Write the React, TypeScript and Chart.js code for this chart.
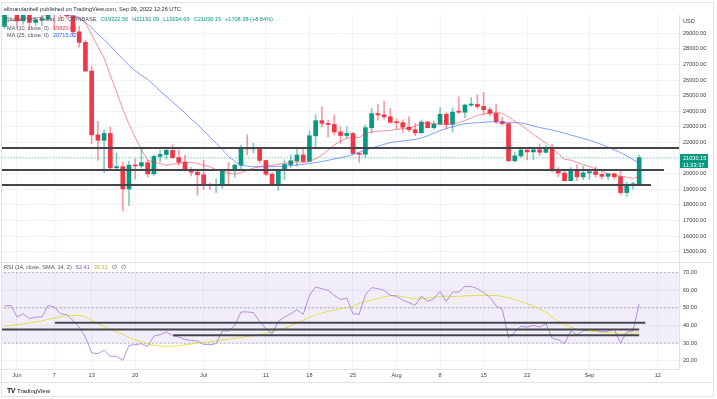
import React, { useEffect, useRef } from "react";
import { Chart, registerables } from "chart.js";

Chart.register(...registerables);

const FONT = '"Liberation Sans", Arial, sans-serif';

// Bitcoin / U.S. Dollar, 1D, COINBASE — day 0 = 30 May 2022 ... day 102 = 9 Sep 2022
const opens = [
  29440, 31720, 31790, 29800, 30450, 29700, 29860, 29910, 31370, 31130,
  30200, 30110, 29090, 28420, 26580, 22490, 22140, 22580, 20380, 20450,
  19020, 20550, 20500, 20710, 19990, 21110, 21230, 21500, 21030, 20730,
  20250, 20100, 19930, 19290, 19250, 19300, 20230, 20190, 20550, 21630,
  21590, 21600, 20850, 19970, 19330, 20230, 20590, 20830, 21200, 20790,
  22430, 23400, 23230, 23160, 22680, 22450, 22580, 21300, 21250, 22950,
  23850, 23770, 23650, 23300, 23270, 22980, 22820, 22620, 23310, 22950,
  23180, 23810, 23160, 23950, 23940, 24400, 24440, 24310, 24100, 23860,
  23340, 23210, 20830, 21140, 21520, 21400, 21530, 21370, 21570, 20250,
  20040, 19550, 20280, 19800, 20050, 20130, 19950, 19830, 19990, 19800,
  18790, 19290, 19322.56,
];
const highs = [
  31950, 32390, 31980, 30660, 30690, 29950, 30170, 31770, 31560, 31330,
  30700, 30350, 29450, 28580, 26900, 23360, 22800, 22980, 21330, 20760,
  20800, 20950, 21700, 20860, 21200, 21500, 21580, 21860, 21520, 21190,
  20410, 20140, 20880, 19420, 19650, 20300, 20740, 20650, 21830, 22500,
  21950, 21600, 20860, 20060, 20250, 20890, 21200, 21600, 21680, 22750,
  23780, 24280, 23430, 23760, 22990, 23010, 22660, 21330, 23110, 24200,
  24440, 24650, 24190, 23500, 23460, 23650, 23220, 23450, 23350, 23380,
  24240, 23920, 24220, 24920, 24450, 24880, 25050, 25210, 24250, 24440,
  23600, 23210, 21380, 21690, 21530, 21650, 21900, 21820, 21880, 20400,
  20160, 20390, 20570, 20480, 20200, 20450, 20060, 20000, 20050, 20180,
  19460, 19450, 21192.09,
];
const lows = [
  29300, 31220, 29310, 29580, 29250, 29500, 29490, 29890, 29250, 29860,
  29950, 28860, 28110, 26560, 21930, 20850, 20080, 20240, 20250, 17620,
  17960, 19650, 20350, 19780, 19900, 20750, 20940, 21000, 20520, 20200,
  19850, 18620, 18980, 18980, 18790, 19050, 19300, 19780, 20250, 21200,
  21330, 20660, 19880, 19250, 18910, 19630, 20400, 20480, 20760, 20770,
  21580, 23000, 22340, 22480, 21950, 22280, 21250, 20720, 21040, 22600,
  23430, 23500, 23230, 22850, 22660, 22700, 22440, 22590, 22920, 22850,
  23150, 22870, 22670, 23860, 23590, 24300, 24160, 23800, 23700, 23200,
  23120, 20780, 20760, 21060, 20890, 20900, 21160, 21320, 20120, 19810,
  19530, 19550, 19550, 19620, 19650, 19770, 19650, 19600, 19640, 18650,
  18540, 19010, 19294.69,
];
const closes = [
  31720, 31790, 29800, 30450, 29700, 29860, 29910, 31370, 31130, 30200,
  30110, 29090, 28420, 26580, 22490, 22140, 22580, 20380, 20450, 19020,
  20550, 20500, 20710, 19990, 21110, 21230, 21500, 21030, 20730, 20250,
  20100, 19930, 19290, 19250, 19300, 20230, 20190, 20550, 21630, 21590,
  21600, 20850, 19970, 19330, 20230, 20590, 20830, 21200, 20790, 22430,
  23400, 23230, 23160, 22680, 22450, 22580, 21300, 21250, 22950, 23850,
  23770, 23650, 23300, 23270, 22980, 22820, 22620, 23310, 22950, 23180,
  23810, 23160, 23950, 23940, 24400, 24440, 24310, 24100, 23860, 23340,
  23210, 20830, 21140, 21520, 21400, 21530, 21370, 21570, 20250, 20040,
  19550, 20280, 19800, 20050, 20130, 19950, 19830, 19990, 19800, 18790,
  19290, 19321.77, 21030.15,
];
const ma10 = [
  29600, 29840, 29790, 29930, 29930, 29960, 30030, 30310, 30520, 30590,
  30430, 30160, 30020, 29640, 28920, 28140, 27410, 26310, 25240, 24130,
  23170, 22310, 21540, 20880, 20740, 20650, 20540, 20610, 20640, 20760,
  20720, 20660, 20520, 20440, 20260, 20160, 20030, 19980, 20070, 20210,
  20360, 20450, 20520, 20520, 20620, 20650, 20720, 20780, 20700, 20780,
  20960, 21200, 21520, 21850, 22080, 22280, 22320, 22330, 22540, 22690,
  22720, 22760, 22780, 22840, 22890, 22910, 23050, 23250, 23250, 23190,
  23190, 23140, 23210, 23270, 23410, 23580, 23750, 23820, 23920, 23930,
  23870, 23640, 23360, 23120, 22820, 22520, 22230, 21980, 21620, 21290,
  20920, 20870, 20730, 20580, 20460, 20300, 20150, 19990, 19940, 19820,
  19790, 19700, 19820.69,
];
const ma25 = [
  30300, 30300, 30300, 30250, 30250, 30250, 30250, 30200, 30200, 30200,
  30180, 30100, 29950, 29700, 29350, 28950, 28600, 28200, 27750, 27350,
  26950, 26600, 26300, 26050, 25700, 25300, 24950, 24600, 24250, 23900,
  23500, 23150, 22750, 22350, 21950, 21550, 21100, 20800, 20550, 20480,
  20450, 20440, 20440, 20450, 20460, 20480, 20520, 20560, 20600, 20650,
  20720, 20780, 20860, 20940, 21020, 21120, 21230, 21380, 21520, 21640,
  21760, 21880, 22000, 22050, 22100, 22150, 22200, 22290, 22430, 22600,
  22760, 22900, 23000, 23120, 23200, 23240, 23270, 23300, 23330, 23320,
  23300, 23290, 23290, 23250, 23170, 23060, 22960, 22880, 22800, 22700,
  22600, 22480, 22370, 22260, 22140, 22010, 21860, 21700, 21530, 21350,
  21150, 20900, 20715.02,
];
const rsi = [
  51.1, 51.4, 44.8, 46.7, 43.9, 44.8, 44.8, 51.4, 50.5, 46.7,
  46.1, 42.9, 39.1, 33.4, 24.5, 24.0, 25.9, 22.5, 22.5, 20.2,
  28.7, 29.1, 29.7, 28.1, 34.0, 34.8, 36.3, 34.4, 33.4, 32.1,
  31.5, 31.2, 29.3, 29.1, 29.7, 36.9, 36.9, 40.1, 47.7, 47.7,
  47.3, 42.3, 38.2, 35.4, 42.3, 44.8, 46.7, 49.0, 46.3, 57.1,
  61.9, 60.9, 60.0, 57.1, 54.8, 55.6, 46.7, 46.3, 57.5, 61.5,
  60.9, 60.0, 57.1, 56.7, 54.3, 53.0, 51.4, 56.7, 53.7, 55.2,
  59.4, 53.7, 59.0, 59.0, 62.2, 62.2, 60.9, 58.7, 56.1, 51.1,
  49.2, 32.9, 36.3, 39.5, 39.1, 40.1, 39.1, 41.0, 32.9, 31.9,
  29.7, 36.9, 34.8, 36.9, 37.6, 37.2, 36.3, 36.9, 37.8, 30.0,
  36.3, 36.7, 52.41,
];
const rsiSma = [
  39.5, 40.0, 40.5, 41.0, 41.5, 42.0, 42.5, 43.5, 44.2, 45.0,
  45.5, 45.7, 45.7, 45.0, 43.0, 41.0, 39.5, 38.0, 36.3, 35.0,
  33.3, 32.0, 30.8, 29.6, 28.8, 28.4, 28.2, 28.3, 28.6, 29.0,
  29.5, 30.0, 30.4, 30.8, 31.2, 31.8, 32.3, 32.7, 33.2, 33.7,
  34.3, 34.8, 35.5, 36.3, 37.5, 38.5, 39.7, 41.5, 43.0, 44.7,
  46.0, 47.0, 48.0, 48.7, 49.4, 50.0, 51.0, 52.5, 53.5, 54.5,
  55.3, 56.3, 56.9, 57.0, 56.3, 55.7, 55.2, 55.2, 55.5, 56.0,
  56.5, 56.7, 56.5, 56.6, 56.8, 57.0, 57.1, 57.1, 57.1, 57.0,
  56.6, 55.8, 54.8, 53.6, 52.4, 51.2, 49.2, 47.5, 44.8, 42.2,
  40.5, 39.0, 38.0, 37.2, 36.8, 36.5, 36.3, 36.0, 35.8, 35.4,
  35.3, 35.4, 36.31,
];

const timeTickDays = [2, 8, 14, 21, 32, 42, 49, 56, 63, 70, 77, 84, 94, 105];
const timeTickLabels = ["Jun", "7", "13", "20", "Jul", "11", "18", "25", "Aug", "8", "15", "22", "Sep", "12"];
const priceTicks = [15000, 16000, 17000, 18000, 19000, 20000, 21000, 22000, 23000, 24000, 25000, 26000, 27000, 28000, 29000];
const rsiTicks = [20, 30, 40, 50, 60, 70];
const rsiBandLevels = [70, 50, 30];

// hand-drawn horizontal levels (value, first day, last day)
const priceLevels = [21650, 20230, 19280];
const priceLevelStartDays = [-2, -2, -2];
const priceLevelEndDays = [110, 106, 103.9];
const rsiLevels = [41.6, 37.8, 34.4];
const rsiLevelStartDays = [8.1, -2, 27.1];
const rsiLevelEndDays = [103, 102, 102];

const X_MIN = -0.41;
const X_MAX = 108.4;
const PRICE_MIN = 14340;
const PRICE_MAX = 30173;
const RSI_MIN = 15.3;
const RSI_MAX = 75.5;

const GRID = "#f0f3fa";
const AXIS_TEXT = "#3b3f4a";
const UP = "#089981";
const DOWN = "#f23645";
const TICK_FONT = { size: 5.6, family: FONT };

const days = closes.map((_, i) => i);
const last = closes.length - 1;
const isUp = days.map((i) => closes[i] >= opens[i]);

function xScale(showLabels: boolean) {
  return {
    type: "linear",
    min: X_MIN,
    max: X_MAX,
    bounds: "data",
    offset: false,
    afterBuildTicks: (s: any) => {
      s.ticks = timeTickDays.map((v) => ({ value: v }));
    },
    ticks: {
      display: showLabels,
      autoSkip: false,
      maxRotation: 0,
      padding: 3,
      color: AXIS_TEXT,
      font: TICK_FONT,
      callback: (_v: any, i: number) => timeTickLabels[i],
    },
    grid: { color: GRID, drawTicks: false, offset: false },
    border: { display: showLabels, color: "#e0e3eb" },
    afterFit: (s: any) => {
      s.height = showLabels ? 14 : 0;
      s.paddingLeft = 0;
      s.paddingRight = 0;
    },
  };
}

function yScale(min: number, max: number, tickVals: number[]) {
  return {
    type: "linear",
    position: "right",
    min,
    max,
    bounds: "data",
    afterBuildTicks: (s: any) => {
      s.ticks = tickVals.map((v) => ({ value: v }));
    },
    ticks: {
      color: AXIS_TEXT,
      font: TICK_FONT,
      padding: 4,
      callback: (v: any) => Number(v).toFixed(2),
    },
    grid: { color: GRID, drawTicks: false },
    border: { display: true, color: "#e0e3eb" },
    afterFit: (s: any) => {
      s.width = 35;
      s.paddingTop = 0;
      s.paddingBottom = 0;
    },
  };
}

function hLine(value: number, from: number, to: number, color: string, width: number, dash: number[], order: number) {
  return {
    type: "line",
    data: [
      { x: from, y: value },
      { x: to, y: value },
    ],
    borderColor: color,
    borderWidth: width,
    borderDash: dash,
    pointRadius: 0,
    order,
  };
}

const lastPriceLabel = {
  id: "lastPriceLabel",
  afterDraw(chart: any) {
    const y = chart.scales.y.getPixelForValue(closes[last]);
    const ctx = chart.ctx;
    const left = chart.chartArea.right + 1;
    ctx.save();
    ctx.fillStyle = UP;
    ctx.fillRect(left, Math.round(y) - 4, 28, 14);
    ctx.fillStyle = "#ffffff";
    ctx.font = `5.6px ${FONT}`;
    ctx.textAlign = "left";
    ctx.textBaseline = "middle";
    ctx.fillText(closes[last].toFixed(2), left + 3, Math.round(y) + 0.5);
    ctx.fillText("11:33:37", left + 3, Math.round(y) + 7);
    ctx.restore();
  },
};

function priceConfig(): any {
  return {
    type: "bar",
    data: {
      datasets: [
        {
          type: "bar",
          data: days.map((i) => ({ x: i, y: [lows[i], highs[i]] })),
          backgroundColor: isUp.map((u) => (u ? "rgba(8,153,129,0.5)" : "rgba(242,54,69,0.5)")),
          barThickness: 1,
          grouped: false,
          clip: 0,
          order: 9,
        },
        {
          type: "bar",
          data: days.map((i) => ({ x: i, y: [opens[i], closes[i]] })),
          backgroundColor: isUp.map((u) => (u ? UP : DOWN)),
          barThickness: 4,
          minBarLength: 1,
          grouped: false,
          clip: 0,
          order: 8,
        },
        {
          type: "line",
          data: days.map((i) => ({ x: i, y: ma25[i] })),
          borderColor: "rgba(41,98,255,0.6)",
          borderWidth: 1,
          pointRadius: 0,
          clip: 0,
          order: 7,
        },
        {
          type: "line",
          data: days.map((i) => ({ x: i, y: ma10[i] })),
          borderColor: "rgba(242,54,69,0.55)",
          borderWidth: 1,
          pointRadius: 0,
          clip: 0,
          order: 6,
        },
        hLine(closes[last], X_MIN - 1, X_MAX + 1, "rgba(8,153,129,0.6)", 1, [1, 2], 5),
        ...priceLevels.map((lv, k) => hLine(lv, priceLevelStartDays[k], priceLevelEndDays[k], "#45464d", 2, [], 1)),
      ],
    },
    options: {
      animation: false,
      responsive: false,
      maintainAspectRatio: false,
      layout: { padding: { left: 2, right: 3, top: 15, bottom: 1 } },
      plugins: { legend: { display: false }, tooltip: { enabled: false }, title: { display: false } },
      events: [],
      scales: {
        x: xScale(false),
        y: yScale(PRICE_MIN, PRICE_MAX, priceTicks),
      },
    },
    plugins: [lastPriceLabel],
  };
}

function rsiConfig(): any {
  const bandColor = "rgba(120,123,134,0.55)";
  return {
    type: "line",
    data: {
      datasets: [
        {
          type: "line",
          data: [
            { x: X_MIN - 1, y: rsiBandLevels[0] },
            { x: X_MAX + 1, y: rsiBandLevels[0] },
          ],
          fill: { value: rsiBandLevels[2] },
          backgroundColor: "rgba(126,87,194,0.1)",
          borderColor: bandColor,
          borderWidth: 1,
          borderDash: [2, 2],
          pointRadius: 0,
          order: 9,
        },
        hLine(rsiBandLevels[1], X_MIN - 1, X_MAX + 1, bandColor, 1, [2, 2], 8),
        hLine(rsiBandLevels[2], X_MIN - 1, X_MAX + 1, bandColor, 1, [2, 2], 8),
        {
          type: "line",
          data: days.map((i) => ({ x: i, y: rsiSma[i] })),
          borderColor: "rgba(222,224,60,0.9)",
          borderWidth: 1,
          pointRadius: 0,
          order: 6,
        },
        {
          type: "line",
          data: days.map((i) => ({ x: i, y: rsi[i] })),
          borderColor: "rgba(160,120,225,0.8)",
          borderWidth: 1,
          pointRadius: 0,
          order: 5,
        },
        ...rsiLevels.map((lv, k) => hLine(lv, rsiLevelStartDays[k], rsiLevelEndDays[k], "#45464d", 2, [], 1)),
      ],
    },
    options: {
      animation: false,
      responsive: false,
      maintainAspectRatio: false,
      layout: { padding: { left: 2, right: 3, top: 0, bottom: 0 } },
      plugins: { legend: { display: false }, tooltip: { enabled: false }, title: { display: false } },
      events: [],
      scales: {
        x: xScale(true),
        y: yScale(RSI_MIN, RSI_MAX, rsiTicks),
      },
    },
  };
}

const fmt = (v: number) => v.toFixed(2);

export default function App() {
  const priceRef = useRef<HTMLCanvasElement>(null);
  const rsiRef = useRef<HTMLCanvasElement>(null);

  useEffect(() => {
    Chart.defaults.font.family = FONT;
    const c1 = new Chart(priceRef.current as HTMLCanvasElement, priceConfig());
    const c2 = new Chart(rsiRef.current as HTMLCanvasElement, rsiConfig());
    return () => {
      c1.destroy();
      c2.destroy();
    };
  }, []);

  const chg = closes[last] - closes[last - 1];
  const pct = (chg / closes[last - 1]) * 100;
  const green = UP;

  const txt: React.CSSProperties = {
    position: "absolute",
    fontSize: 5.6,
    lineHeight: "7px",
    whiteSpace: "nowrap",
    fontFamily: FONT,
    color: "#131722",
  };

  return (
    <div
      style={{
        position: "fixed",
        left: 0,
        top: 0,
        width: 717,
        height: 399,
        background: "#ffffff",
        overflow: "hidden",
        fontFamily: FONT,
      }}
    >
      <canvas ref={priceRef} width={717} height={263} style={{ position: "absolute", left: 0, top: 0, width: 717, height: 263 }} />
      <canvas ref={rsiRef} width={717} height={120} style={{ position: "absolute", left: 0, top: 263, width: 717, height: 120 }} />

      {/* frame and pane separators */}
      <div style={{ position: "absolute", left: 1, top: 2, width: 713, height: 395, border: "1px solid #e0e3eb", boxSizing: "border-box", pointerEvents: "none" }} />
      <div style={{ position: "absolute", left: 1, top: 262, width: 713, height: 1, background: "#e0e3eb" }} />
      <div style={{ position: "absolute", left: 1, top: 382, width: 713, height: 1, background: "#e0e3eb" }} />

      <div style={{ ...txt, left: 4, top: 5.5, color: "#2a2e39" }}>ellmandanbell published on TradingView.com, Sep 09, 2022 12:26 UTC</div>

      <div style={{ ...txt, left: 6, top: 15.5, color: "#50535e" }}>
        Bitcoin / U.S. Dollar, 1D, COINBASE
        <span style={{ color: green, marginLeft: 4 }}>O{fmt(opens[last])}</span>
        <span style={{ color: green, marginLeft: 4 }}>H{fmt(highs[last])}</span>
        <span style={{ color: green, marginLeft: 4 }}>L{fmt(lows[last])}</span>
        <span style={{ color: green, marginLeft: 4 }}>C{fmt(closes[last])}</span>
        <span style={{ color: green, marginLeft: 4 }}>
          +{fmt(chg)} (+{pct.toFixed(2)}%)
        </span>
      </div>
      <div style={{ ...txt, left: 7, top: 25, color: "#50535e" }}>
        MA (10, close, 0)<span style={{ color: "#f23645", marginLeft: 4 }}>{fmt(ma10[last])}</span>
      </div>
      <div style={{ ...txt, left: 7, top: 31.8, color: "#50535e" }}>
        MA (25, close, 0)<span style={{ color: "#2962ff", marginLeft: 4 }}>{fmt(ma25[last])}</span>
      </div>
      <div style={{ ...txt, left: 683, top: 17.5, color: AXIS_TEXT }}>USD</div>

      <div style={{ ...txt, left: 4, top: 264, color: "#50535e" }}>
        RSI (14, close, SMA, 14, 2)
        <span style={{ color: "#7e57c2", marginLeft: 4 }}>{fmt(rsi[last])}</span>
        <span style={{ color: "#b5b32a", marginLeft: 4 }}>{fmt(rsiSma[last])}</span>
        <span style={{ marginLeft: 4 }}>∅</span>
        <span style={{ marginLeft: 4 }}>∅</span>
      </div>

      <div style={{ ...txt, left: 7, top: 386.5, color: "#131722", fontSize: 6 }}>
        <span style={{ fontWeight: 700, fontSize: 7, letterSpacing: -0.5 }}>TV</span>
        <span style={{ marginLeft: 2 }}>TradingView</span>
      </div>
    </div>
  );
}
